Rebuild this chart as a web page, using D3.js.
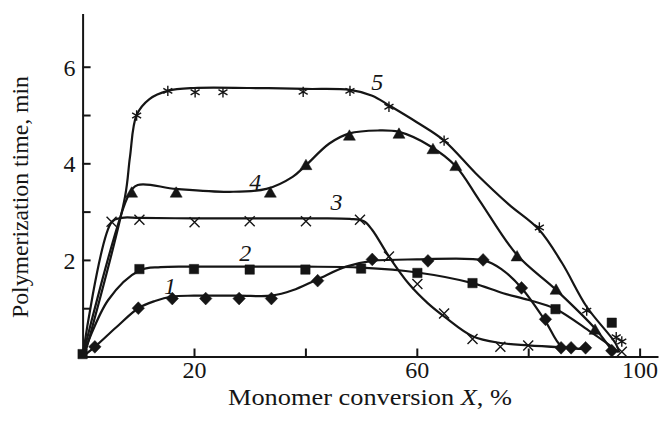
<!DOCTYPE html>
<html><head><meta charset="utf-8">
<script src="https://cdn.jsdelivr.net/npm/d3@7"></script>
<style>
body{margin:0;background:#fff}
svg{display:block}
</style>
</head><body>
<svg id="chart" width="660" height="425"></svg>
<script>
// ---- data ----
const xTicks = [20, 40, 60, 80, 100];
const xTickLabels = [20, 60, 100];
const yTicks = [1, 2, 3, 4, 5, 6];
const yTickLabels = [2, 4, 6];
const seriesNames = ["1", "2", "3", "4", "5"];
const seriesShapes = ["diamond", "square", "cross", "triangle", "asterisk"];
const labelAt = [[15.7, 1.45], [29.2, 2.14], [45.6, 3.2], [31.0, 3.62], [52.9, 5.68]];

// fitted curves
const curve1 = [[0,0],[2.2,0.2],[6,0.6],[10,1.0],[13,1.15],[16,1.24],[20,1.26],[28,1.26],[34,1.26],[37.7,1.37],[42.2,1.6],[47.3,1.86],[52,1.98],[60,2.01],[72,1.99],[75.3,1.8],[78.8,1.42],[83,0.75],[85.9,0.22],[88,0.17],[91,0.16]];
const curve2 = [[0,0],[4.6,1.17],[10.2,1.78],[14,1.85],[20,1.86],[30,1.86],[40,1.86],[50,1.84],[60.1,1.74],[70,1.52],[75.5,1.31],[80.1,1.17],[85,0.98],[91.2,0.51],[95,0.2],[96,0.1]];
const curve3 = [[0,0],[5.2,2.78],[7,2.87],[10.2,2.87],[20,2.86],[30,2.86],[40,2.86],[48,2.85],[50.5,2.8],[52,2.62],[55,2.07],[58.6,1.5],[62,1.1],[65,0.82],[70,0.42],[75,0.28],[80,0.23],[86,0.19]];
const curve4 = [[0,0],[8.3,3.35],[9.9,3.55],[16.8,3.47],[26.4,3.41],[33,3.47],[37.7,3.72],[40.1,3.96],[44.3,4.41],[47.9,4.62],[53,4.68],[56.8,4.65],[62.2,4.37],[67,3.94],[71.2,3.24],[78,2.1],[85,1.38],[92,0.58],[95,0.13]];
const curve5 = [[0.3,0],[7.6,3.3],[8.5,4.13],[9.7,5.0],[12,5.33],[15.3,5.5],[20,5.56],[30,5.56],[40,5.54],[48,5.52],[52,5.4],[55,5.2],[60,4.85],[64.9,4.47],[70.6,3.79],[76.5,3.15],[82,2.62],[86.1,1.93],[90.5,1.03],[95.7,0.27],[96.3,0.1]];

// measured points (markers)
const points1 = [[2.2,0.2],[10,1.0],[16.1,1.2],[22.1,1.2],[28.1,1.2],[33.9,1.2],[42.2,1.57],[52,2.01],[62,1.98],[71.9,2.0],[78.8,1.42],[83.1,0.77],[85.9,0.18],[87.7,0.18],[90.3,0.18],[95,0.12]];
const points2 = [[0,0.05],[10.2,1.81],[20,1.81],[30,1.8],[40,1.8],[50,1.82],[60.1,1.73],[70,1.52],[84.9,0.98],[95,0.7]];
const points3 = [[5.2,2.79],[10.2,2.83],[20.1,2.78],[30,2.8],[40.1,2.8],[49.8,2.83],[55,2.07],[60.1,1.5],[64.9,0.89],[70,0.36],[75,0.2],[80,0.23],[96.8,0.1]];
const points4 = [[8.8,3.39],[16.8,3.39],[33.7,3.39],[40.1,3.96],[47.9,4.57],[56.8,4.61],[62.9,4.29],[67,3.94],[78,2.07],[85,1.38],[92,0.55]];
const points5 = [[9.7,4.99],[15.3,5.5],[20.2,5.47],[25.2,5.47],[39.6,5.48],[48,5.5],[55,5.17],[64.9,4.47],[82,2.67],[90.5,0.95],[95.8,0.4],[96.8,0.31]];

const curves = [curve1, curve2, curve3, curve4, curve5];
const pointSets = [points1, points2, points3, points4, points5];

// ---- drawing ----
const FONT = '"Liberation Serif"';
const svg = d3.select("#chart");
const ink = "#151515";
const x = d3.scaleLinear().domain([0, 103.3]).range([82.6, 658]);
const y = d3.scaleLinear().domain([0, 7.1]).range([356.5, 13.6]);

// axes
const xAxis = d3.axisBottom(x).tickValues(xTicks).tickSizeInner(-8).tickSizeOuter(0)
  .tickFormat(d => xTickLabels.includes(d) ? d : "");
const gx = svg.append("g").attr("transform", `translate(0,${y(0)})`).call(xAxis);
gx.selectAll("text").attr("y", 21).attr("dy", 0);

const yAxis = d3.axisLeft(y).tickValues(yTicks).tickSizeInner(-8).tickSizeOuter(0)
  .tickFormat(d => yTickLabels.includes(d) ? d : "");
const gy = svg.append("g").attr("transform", `translate(${x(0)},0)`).call(yAxis);
gy.selectAll("text").attr("x", -7).attr("dy", "0.35em");

[gx, gy].forEach(g => {
  g.attr("font-family", FONT).attr("font-size", 24);
  g.select(".domain").attr("stroke", ink).attr("stroke-width", 2);
  g.selectAll(".tick line").attr("stroke", ink).attr("stroke-width", 2);
  g.selectAll("text").style("font-family", FONT).style("font-size", "24px").attr("fill", ink);
});

// titles
const xt = svg.append("text").attr("x", 370).attr("y", 405).attr("text-anchor", "middle")
  .style("font-family", FONT).style("font-size", "24px").attr("fill", ink)
  .attr("textLength", 284).attr("lengthAdjust", "spacingAndGlyphs");
xt.append("tspan").text("Monomer conversion ");
xt.append("tspan").style("font-style", "italic").text("X");
xt.append("tspan").text(", %");

svg.append("text").attr("transform", "translate(28,197) rotate(-90)").attr("text-anchor", "middle")
  .style("font-family", FONT).style("font-size", "24px").attr("fill", ink)
  .attr("textLength", 242).attr("lengthAdjust", "spacingAndGlyphs")
  .text("Polymerization time, min");

// lines
const line = d3.line().x(d => x(d[0])).y(d => y(d[1])).curve(d3.curveCatmullRom.alpha(0.5));
svg.append("g").selectAll("path").data(curves).join("path")
  .attr("d", line).attr("fill", "none").attr("stroke", ink).attr("stroke-width", 2.2)
  .attr("stroke-linejoin", "round").attr("stroke-linecap", "round");

// markers
const shapePath = {
  diamond: "M0,-6.4L6.2,0L0,6.4L-6.2,0Z",
  square: "M-4.7,-4.7H4.7V4.7H-4.7Z",
  triangle: "M0,-6L6,4.4H-6Z",
  cross: "M-5,-5L5,5M-5,5L5,-5",
  asterisk: "M0,-5.2V5.2M-4.5,-2.6L4.5,2.6M-4.5,2.6L4.5,-2.6"
};
pointSets.forEach((pts, i) => {
  const shp = seriesShapes[i];
  const filled = shp === "diamond" || shp === "square" || shp === "triangle";
  svg.append("g").selectAll("path").data(pts).join("path")
    .attr("transform", d => `translate(${x(d[0])},${y(d[1])})`)
    .attr("d", shapePath[shp])
    .attr("fill", filled ? ink : "none")
    .attr("stroke", ink)
    .attr("stroke-width", filled ? 0.5 : 1.4);
});

// series labels
svg.append("g").selectAll("text").data(seriesNames).join("text")
  .attr("x", (d, i) => x(labelAt[i][0])).attr("y", (d, i) => y(labelAt[i][1]))
  .attr("text-anchor", "middle").attr("dominant-baseline", "central")
  .style("font-family", FONT).style("font-size", "24px").style("font-style", "italic")
  .attr("fill", ink).text(d => d);
</script>
</body></html>
